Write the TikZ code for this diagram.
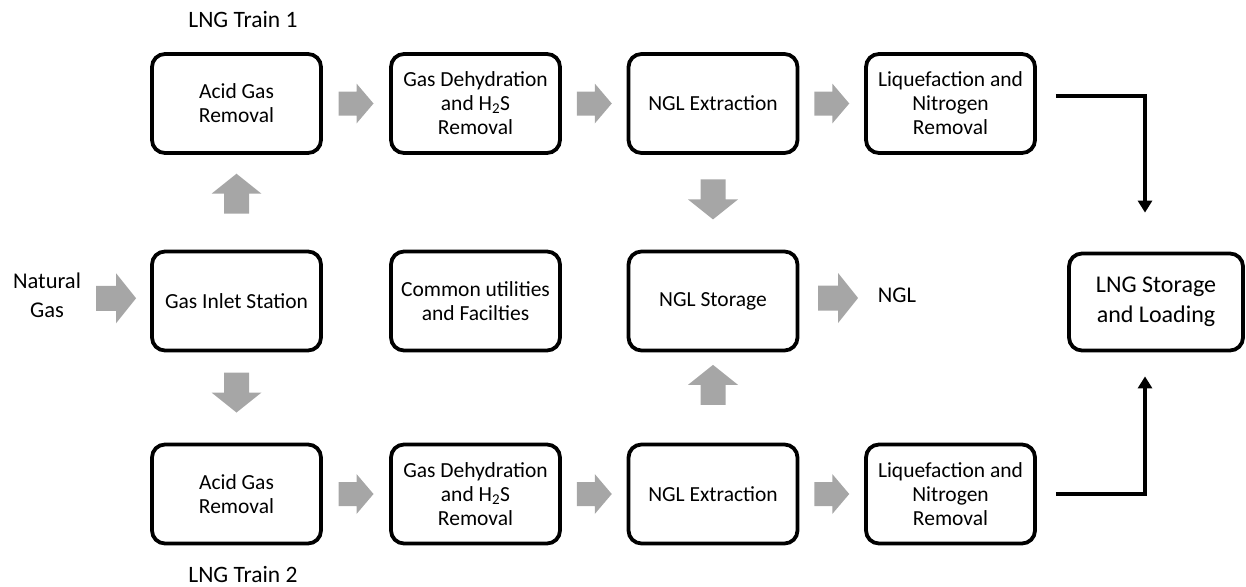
\documentclass[tikz,border=0pt]{standalone}
\usepackage{fontspec}
\setmainfont{Carlito}
\usetikzlibrary{positioning,arrows.meta,calc}

\definecolor{arrowgray}{RGB}{166,166,166}

\tikzset{
  unit/.style={draw, line width=3.8pt, rounded corners=13pt, minimum width=169pt,
    minimum height=99pt, align=center, inner sep=2pt, font=\fontsize{21.5}{24}\selectfont},
  tag/.style={align=center, inner sep=1pt, font=\fontsize{22.5}{29}\selectfont},
  feed/.style={line width=4pt, -{Triangle[length=12pt,width=14pt]}},
  bigarrow/.pic={\fill[arrowgray] (-20,-12.5) -- (0,-12.5) -- (0,-25) -- (20,0)
    -- (0,25) -- (0,12.5) -- (-20,12.5) -- cycle;},
  smallarrow/.pic={\fill[arrowgray] (-17.5,-12) -- (0.5,-12) -- (0.5,-20) -- (17.5,0)
    -- (0.5,20) -- (0.5,12) -- (-17.5,12) -- cycle;}
}

\begin{document}
\begin{tikzpicture}[x=1pt,y=-1pt]
  \useasboundingbox (0,0) rectangle (1246,586);
  \def\ca{236.5} % column centres
  \def\cb{475.5}
  \def\cc{713}
  \def\cd{950.5}
  \def\ra{103.5} % row centres
  \def\rb{301}
  \def\rc{494}

  % train 1
  \node[unit] (acid1) at (\ca,\ra) {Acid Gas\\Removal};
  \node[unit] (dehy1) at (\cb,\ra) {Gas Dehydration\\and H\textsubscript{2}S\\Removal};
  \node[unit] (ngle1) at (\cc,\ra) {NGL Extraction};
  \node[unit] (liqu1) at (\cd,\ra) {Liquefaction and\\Nitrogen\\Removal};
  % common row
  \node[unit] (inlet) at (\ca,\rb) {Gas Inlet Station};
  \node[unit] (util) at (\cb,\rb) {Common utilities\\and Facilties};
  \node[unit] (nglst) at (\cc,\rb) {NGL Storage};
  \node[unit, minimum width=174pt, minimum height=97pt,
    font=\fontsize{24}{30}\selectfont] (lngst) at (1156,302) {LNG Storage\\and Loading};
  % train 2
  \node[unit] (acid2) at (\ca,\rc) {Acid Gas\\Removal};
  \node[unit] (dehy2) at (\cb,\rc) {Gas Dehydration\\and H\textsubscript{2}S\\Removal};
  \node[unit] (ngle2) at (\cc,\rc) {NGL Extraction};
  \node[unit] (liqu2) at (\cd,\rc) {Liquefaction and\\Nitrogen\\Removal};

  \node[tag] (gas) at (47,295.5) {Natural\\Gas};
  \node[tag] (ngl) at (897,295) {NGL};
  \node[tag, font=\fontsize{23.5}{29}\selectfont] (train1) at (243,20) {LNG Train 1};
  \node[tag, font=\fontsize{23.5}{29}\selectfont] (train2) at (243,574) {LNG Train 2};

  % grey block arrows
  \path (gas.east) -- pic{bigarrow} (inlet.west);
  \path (nglst.east) -- pic{bigarrow} (ngl.west);
  \path (inlet.north) -- pic[pos=0.59, rotate=90]{bigarrow} (acid1.south);
  \path (inlet.south) -- pic[pos=0.445, rotate=-90]{bigarrow} (acid2.north);
  \path (ngle1.south) -- pic[pos=0.47, rotate=-90]{bigarrow} (nglst.north);
  \path (ngle2.north) -- pic[pos=0.64, rotate=90]{bigarrow} (nglst.south);
  \foreach \a/\b in {acid1/dehy1, dehy1/ngle1, ngle1/liqu1,
                     acid2/dehy2, dehy2/ngle2, ngle2/liqu2} {
    \path (\a.east) -- pic{smallarrow} (\b.west);
  }

  % to storage and loading
  \draw[feed] ([xshift=19pt,yshift=7.5pt]liqu1.east) -| ([xshift=-11pt,yshift=39pt]lngst.north);
  \draw[feed] ([xshift=19pt]liqu2.east) -| ([xshift=-11pt,yshift=-24pt]lngst.south);
\end{tikzpicture}
\end{document}
